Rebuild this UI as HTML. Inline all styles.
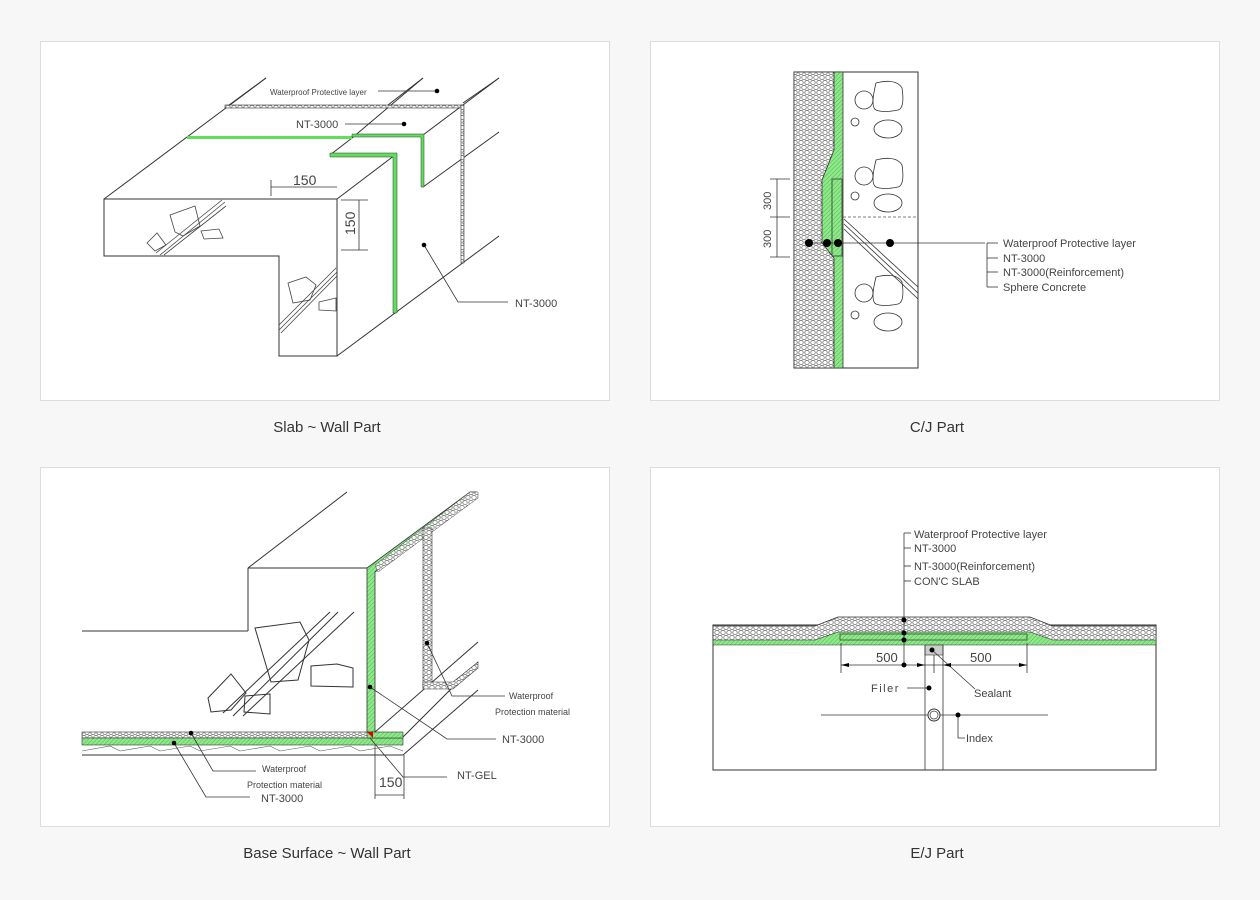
<!DOCTYPE html>
<html><head><meta charset="utf-8"><style>
html,body{margin:0;padding:0;background:#f7f7f7;}
body{width:1260px;height:900px;position:relative;overflow:hidden;font-family:"Liberation Sans",sans-serif;}
svg{position:absolute;left:0;top:0;}
</style></head><body>
<svg width="1260" height="900" viewBox="0 0 1260 900" xmlns="http://www.w3.org/2000/svg" font-family="Liberation Sans, sans-serif">
<defs>
<pattern id="hex" width="6" height="10" patternUnits="userSpaceOnUse">
<rect width="6" height="10" fill="#fff"/>
<circle cx="3" cy="2.5" r="2.2" fill="none" stroke="#444" stroke-width="0.6"/>
<circle cx="0" cy="7.5" r="2.2" fill="none" stroke="#444" stroke-width="0.6"/>
<circle cx="6" cy="7.5" r="2.2" fill="none" stroke="#444" stroke-width="0.6"/>
</pattern>
<pattern id="grn" width="3" height="3" patternUnits="userSpaceOnUse" patternTransform="rotate(45)">
<rect width="3" height="3" fill="#8fe88a"/>
<line x1="0" y1="0" x2="0" y2="3" stroke="#3cb040" stroke-width="0.8"/>
</pattern>
</defs>
<!-- panels -->
<rect x="40.5" y="41.5" width="569" height="359" fill="#fff" stroke="#ddd"/>
<rect x="650.5" y="41.5" width="569" height="359" fill="#fff" stroke="#ddd"/>
<rect x="40.5" y="467.5" width="569" height="359" fill="#fff" stroke="#ddd"/>
<rect x="650.5" y="467.5" width="569" height="359" fill="#fff" stroke="#ddd"/>
<g font-size="15" fill="#333" text-anchor="middle">
<text x="327" y="432">Slab ~ Wall Part</text>
<text x="937" y="432">C/J Part</text>
<text x="327" y="858">Base Surface ~ Wall Part</text>
<text x="937" y="858">E/J Part</text>
</g>

<!-- PANEL 1 -->
<g stroke="#333" stroke-width="1" fill="none">
<polygon points="104,199 337,199 337,356 279,356 279,256 104,256" fill="#fff"/>
<line x1="104" y1="199" x2="266" y2="78"/>
<line x1="337" y1="199" x2="395" y2="155"/>
<line x1="337" y1="356" x2="499" y2="236"/>
<line x1="395" y1="155" x2="395" y2="313"/>
<line x1="187" y1="138" x2="352" y2="138"/>
<line x1="330" y1="155" x2="393" y2="155"/>
<line x1="330" y1="155" x2="352" y2="138"/>
<line x1="352" y1="138" x2="423" y2="78"/>
<line x1="423" y1="187" x2="499" y2="132"/>
<line x1="423" y1="135" x2="499" y2="78"/>
<line x1="463" y1="103" x2="499" y2="78"/>
<line x1="388" y1="105" x2="423" y2="78"/>
<line x1="225" y1="108" x2="266" y2="78"/>
</g>
<rect x="225" y="105" width="238" height="3" fill="url(#hex)" stroke="#333" stroke-width="0.6"/>
<rect x="461" y="105" width="3" height="158" fill="url(#hex)" stroke="#333" stroke-width="0.6"/>
<rect x="187" y="136" width="165" height="3" fill="#5ee05a"/>
<polygon points="352,134 424,134 424,187 421,187 421,137 352,137" fill="#5ee05a" stroke="#333" stroke-width="0.5"/>
<polygon points="330,153 397,153 397,313 393,313 393,157 330,157" fill="#5ee05a" stroke="#333" stroke-width="0.5"/>
<g stroke="#444" stroke-width="0.8" fill="none">
<polygon points="170,215 195,206 200,226 183,236 175,232"/>
<polygon points="147,243 157,233 166,245 155,251"/>
<polygon points="201,231 219,229 223,238 204,239"/>
<polygon points="288,283 306,277 316,285 310,300 293,303"/>
<polygon points="319,302 336,298 336,311 319,310"/>
<line x1="156" y1="253" x2="222" y2="200"/><line x1="160" y1="255" x2="225" y2="202"/><line x1="164" y1="255" x2="226" y2="206"/>
<line x1="279" y1="325" x2="336" y2="268"/><line x1="279" y1="330" x2="337" y2="272"/><line x1="281" y1="333" x2="337" y2="276"/>
</g>
<g stroke="#333" stroke-width="0.8" fill="none">
<line x1="271" y1="187" x2="337" y2="187"/><line x1="271" y1="180" x2="271" y2="196"/>
<line x1="341" y1="200" x2="368" y2="200"/><line x1="341" y1="250" x2="368" y2="250"/>
<line x1="359" y1="200" x2="359" y2="250"/>
<line x1="378" y1="91" x2="437" y2="91"/><line x1="345" y1="124" x2="404" y2="124"/>
<polyline points="424,245 458,302 508,302"/>
</g>
<g fill="#000"><circle cx="437" cy="91" r="2.3"/><circle cx="404" cy="124" r="2.3"/><circle cx="424" cy="245" r="2.3"/></g>
<g fill="#444">
<text x="270" y="95" font-size="8">Waterproof Protective layer</text>
<text x="296" y="128" font-size="11">NT-3000</text>
<text x="515" y="307" font-size="11">NT-3000</text>
<text x="293" y="185" font-size="14">150</text>
<text x="0" y="0" font-size="14" transform="translate(355,235) rotate(-90)">150</text>
</g>

<!-- PANEL 2 -->
<rect x="794" y="72" width="124" height="296" fill="#fff" stroke="#333"/>
<rect x="794" y="72" width="40" height="296" fill="url(#hex)" stroke="#333" stroke-width="0.8"/>
<polygon points="834,72 843,72 843,368 834,368 834,258 822,243 822,180 834,150" fill="url(#grn)" stroke="#333" stroke-width="0.8"/>
<rect x="832" y="179" width="10" height="77" fill="none" stroke="#333" stroke-width="0.8"/>
<line x1="843" y1="217" x2="918" y2="217" stroke="#555" stroke-dasharray="3,2" stroke-width="0.8"/>
<g stroke="#333" stroke-width="0.8" fill="none">
<line x1="844" y1="219" x2="918" y2="287"/><line x1="844" y1="224" x2="918" y2="293"/><line x1="844" y1="229" x2="918" y2="299"/>
<path d="M876 83 q20 -5 26 5 q3 20 -4 22 q-15 3 -22 0 q-6 -3 0 -27z"/><ellipse cx="864" cy="100" rx="9" ry="9"/><ellipse cx="855" cy="122" rx="4" ry="4"/><ellipse cx="888" cy="129" rx="14" ry="9"/>
<path d="M876 160 q20 -5 26 5 q3 20 -4 22 q-15 3 -22 0 q-6 -3 0 -27z"/><ellipse cx="864" cy="176" rx="9" ry="9"/><ellipse cx="855" cy="196" rx="4" ry="4"/><ellipse cx="888" cy="203" rx="14" ry="9"/>
<path d="M876 277 q20 -5 26 5 q3 20 -4 22 q-15 3 -22 0 q-6 -3 0 -27z"/><ellipse cx="864" cy="293" rx="9" ry="9"/><ellipse cx="855" cy="315" rx="4" ry="4"/><ellipse cx="888" cy="322" rx="14" ry="9"/>
<line x1="777" y1="179" x2="777" y2="257"/><line x1="770" y1="179" x2="790" y2="179"/><line x1="770" y1="217" x2="790" y2="217"/><line x1="770" y1="257" x2="790" y2="257"/>
<line x1="809" y1="243" x2="985" y2="243"/>
<line x1="987" y1="243" x2="987" y2="287"/>
<line x1="987" y1="243" x2="998" y2="243"/><line x1="987" y1="258" x2="998" y2="258"/><line x1="987" y1="272" x2="998" y2="272"/><line x1="987" y1="287" x2="998" y2="287"/>
</g>
<g fill="#000"><circle cx="809" cy="243" r="4"/><circle cx="827" cy="243" r="4"/><circle cx="838" cy="243" r="4"/><circle cx="890" cy="243" r="4"/></g>
<g fill="#444" font-size="11">
<text x="1003" y="247">Waterproof Protective layer</text>
<text x="1003" y="262">NT-3000</text>
<text x="1003" y="276">NT-3000(Reinforcement)</text>
<text x="1003" y="291">Sphere Concrete</text>
<text transform="translate(771,210) rotate(-90)">300</text>
<text transform="translate(771,248) rotate(-90)">300</text>
</g>

<!-- PANEL 3 -->
<g stroke="#333" stroke-width="1" fill="none">
<line x1="347" y1="492" x2="248" y2="568"/>
<line x1="248" y1="568" x2="367" y2="568"/>
<line x1="248" y1="568" x2="248" y2="631"/>
<line x1="82" y1="631" x2="248" y2="631"/>
<line x1="375" y1="732" x2="478" y2="642"/>
<line x1="403" y1="737" x2="478" y2="662"/>
<line x1="403" y1="755" x2="478" y2="690"/>
<line x1="82" y1="755" x2="403" y2="755"/>
<polygon points="255,628 300,622 309,640 298,680 271,682"/>
<polygon points="208,698 231,674 246,693 231,710 211,712"/>
<polygon points="311,666 337,664 353,668 353,687 311,686"/>
<polygon points="245,696 270,694 270,714 244,712"/>
<line x1="223" y1="713" x2="330" y2="612"/><line x1="233" y1="716" x2="338" y2="612"/><line x1="243" y1="716" x2="354" y2="612"/>
</g>
<polygon points="367,732 367,568 470,492 476,492 375,572 375,732" fill="url(#grn)" stroke="#333" stroke-width="0.8"/>
<polygon points="378,572 478,498 478,492 470,492 375,565" fill="url(#hex)" stroke="#333" stroke-width="0.5" opacity="0.9"/>
<rect x="423" y="528" width="9" height="160" fill="url(#hex)" stroke="#333" stroke-width="0.6"/>
<polygon points="423,682 453,682 478,662 478,668 453,689 423,689" fill="url(#hex)" stroke="#333" stroke-width="0.6"/>
<rect x="82" y="732" width="286" height="6" fill="url(#hex)" stroke="#333" stroke-width="0.6"/>
<rect x="82" y="738" width="321" height="7" fill="url(#grn)" stroke="#333" stroke-width="0.6"/>
<rect x="367" y="732" width="36" height="6" fill="url(#grn)" stroke="#333" stroke-width="0.6"/>
<polygon points="367,732 373,732 373,738" fill="#d00"/>
<path d="M82 751 L110 746 L120 751 L150 746 L160 751 L190 746 L200 751 L230 746 L240 751 L270 746 L280 751 L310 746 L320 751 L350 746 L360 751 L390 746 L403 751" fill="none" stroke="#555" stroke-width="0.6"/>
<g stroke="#333" stroke-width="0.8" fill="none">
<line x1="375" y1="745" x2="375" y2="799"/><line x1="404" y1="755" x2="404" y2="799"/><line x1="375" y1="795" x2="404" y2="795"/>
<polyline points="370,687 447,739 496,739"/>
<polyline points="427,643 452,696 505,696"/>
<polyline points="370,738 403,777 447,777"/>
<polyline points="191,733 213,771 256,771"/>
<polyline points="174,743 206,797 250,797"/>
</g>
<g fill="#000"><circle cx="370" cy="687" r="2.3"/><circle cx="427" cy="643" r="2.3"/><circle cx="191" cy="733" r="2.3"/><circle cx="174" cy="743" r="2.3"/></g>
<g fill="#444" font-size="9">
<text x="509" y="699">Waterproof</text>
<text x="495" y="715">Protection material</text>
<text x="502" y="743" font-size="11">NT-3000</text>
<text x="457" y="779" font-size="11">NT-GEL</text>
<text x="262" y="772">Waterproof</text>
<text x="247" y="788">Protection material</text>
<text x="261" y="802" font-size="11">NT-3000</text>
<text x="379" y="787" font-size="14">150</text>
</g>

<!-- PANEL 4 -->
<rect x="713" y="625" width="443" height="145" fill="#fff" stroke="#333"/>
<path d="M713 626 L815 626 L838 617 L1030 617 L1053 626 L1156 626 L1156 641 L1053 641 L1033 634 L838 634 L815 641 L713 641 Z" fill="url(#hex)" stroke="#333" stroke-width="0.8"/>
<path d="M713 640 L815 640 L838 632 L1030 632 L1053 640 L1156 640 L1156 645 L713 645 Z" fill="url(#grn)" stroke="#333" stroke-width="0.6"/>
<rect x="840" y="634" width="187" height="6" fill="url(#grn)" stroke="#333" stroke-width="0.7"/>
<rect x="925" y="645" width="18" height="10" fill="#ccc" stroke="#333" stroke-width="0.6"/>
<g stroke="#333" stroke-width="0.8" fill="none">
<line x1="925" y1="645" x2="925" y2="770"/><line x1="943" y1="645" x2="943" y2="770"/>
<line x1="841" y1="643" x2="841" y2="673"/><line x1="1027" y1="643" x2="1027" y2="673"/><line x1="934" y1="655" x2="934" y2="673"/>
<line x1="841" y1="665" x2="1027" y2="665"/>
<line x1="904" y1="533" x2="904" y2="665"/>
<line x1="904" y1="533" x2="911" y2="533"/><line x1="904" y1="548" x2="911" y2="548"/><line x1="904" y1="566" x2="911" y2="566"/><line x1="904" y1="581" x2="911" y2="581"/>
<line x1="907" y1="688" x2="929" y2="688"/>
<line x1="932" y1="650" x2="975" y2="689"/>
<line x1="821" y1="715" x2="1048" y2="715"/>
<polyline points="958,715 958,738 965,738"/>
</g>
<circle cx="934" cy="715" r="6" fill="#fff" stroke="#333"/><circle cx="934" cy="715" r="4" fill="none" stroke="#333" stroke-width="0.7"/>
<g fill="#000"><circle cx="904" cy="620" r="2.5"/><circle cx="904" cy="633" r="2.5"/><circle cx="904" cy="640" r="2.5"/><circle cx="904" cy="665" r="2.5"/><circle cx="929" cy="688" r="2.5"/><circle cx="932" cy="650" r="2.5"/><circle cx="958" cy="715" r="2.5"/>
<polygon points="841,665 849,663 849,667"/><polygon points="925,665 917,663 917,667"/><polygon points="943,665 951,663 951,667"/><polygon points="1027,665 1019,663 1019,667"/></g>
<g fill="#444" font-size="11">
<text x="914" y="538">Waterproof Protective layer</text>
<text x="914" y="552">NT-3000</text>
<text x="914" y="570">NT-3000(Reinforcement)</text>
<text x="914" y="585">CON'C SLAB</text>
<text x="876" y="662" font-size="13">500</text>
<text x="970" y="662" font-size="13">500</text>
<text x="871" y="692" letter-spacing="1.5">Filer</text>
<text x="974" y="697">Sealant</text>
<text x="966" y="742">Index</text>
</g>
</svg>
</body></html>
